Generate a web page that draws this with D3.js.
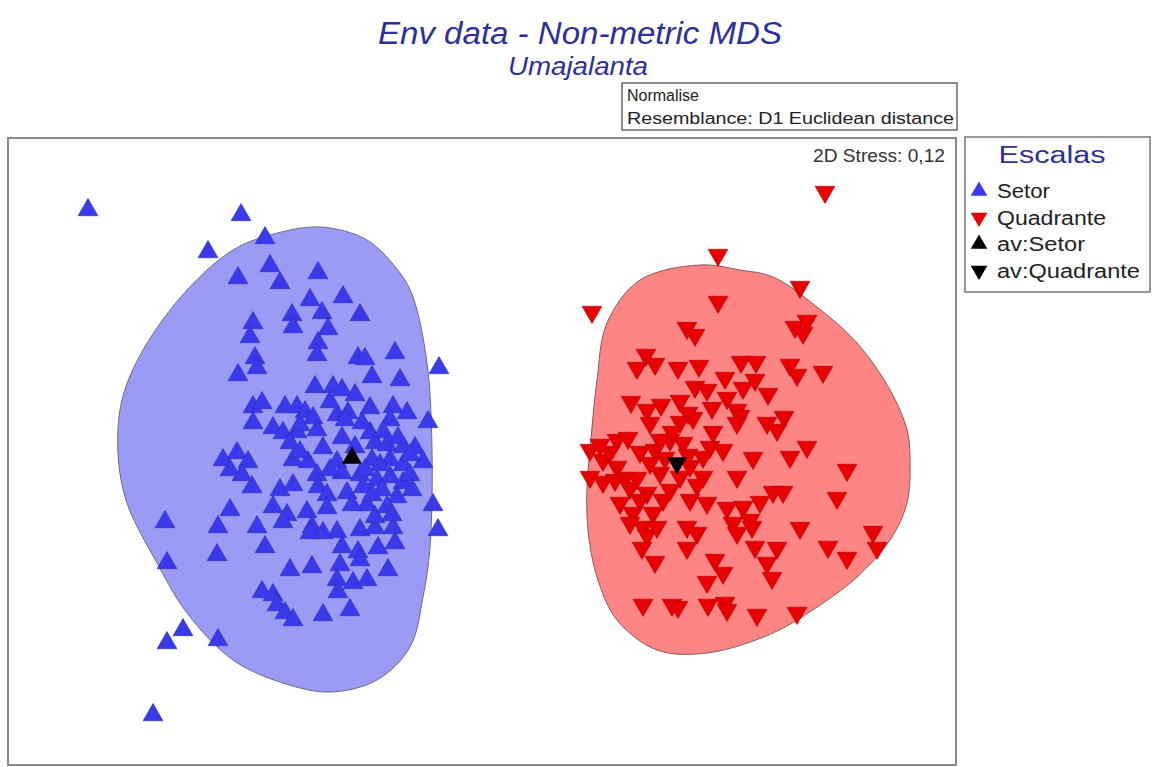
<!DOCTYPE html>
<html>
<head>
<meta charset="utf-8">
<script src="https://cdn.jsdelivr.net/npm/d3@7"></script>
<style>
  body { margin: 0; background: #fff; }
  svg { display: block; font-family: "Liberation Sans", Arial, sans-serif; }
</style>
</head>
<body>
<div id="chart"></div>
<script>
// NMDS scores (MDS1, MDS2)
const setor = [
  [-3.95,2.42],[-2.42,2.37],[-2.75,2.00],[-2.18,2.14],[-2.13,1.86],[-2.45,1.74],[-2.03,1.69],
  [-1.65,1.79],[-1.73,1.52],[-1.40,1.55],[-1.91,1.37],[-1.90,1.25],[-1.61,1.39],[-1.55,1.23],
  [-1.23,1.37],[-2.30,1.29],[-2.33,1.15],[-1.65,1.09],[-1.66,0.97],[-2.28,0.94],[-2.26,0.84],
  [-2.45,0.77],[-1.25,0.94],[-1.18,0.93],[-0.88,0.99],[-0.44,0.84],[-1.11,0.75],[-0.83,0.72],
  [-1.68,0.65],[-1.50,0.65],[-1.41,0.62],[-1.28,0.57],[-2.30,0.45],[-2.21,0.49],[-1.98,0.45],
  [-1.86,0.45],[-1.78,0.40],[-1.70,0.34],[-1.46,0.37],[-1.35,0.39],[-1.13,0.44],[-0.90,0.45],
  [-0.76,0.39],[-0.93,0.32],[-0.55,0.30],[-2.30,0.29],[-2.10,0.24],[-2.00,0.19],[-1.86,0.20],
  [-1.66,0.22],[-1.41,0.14],[-1.13,0.19],[-1.08,0.09],[-0.96,0.07],[-0.80,0.05],[-0.68,0.04],
  [-1.93,0.09],[-1.60,0.04],[-2.60,-0.08],[-2.46,-0.01],[-2.35,-0.10],[-2.53,-0.18],[-2.41,-0.23],
  [-2.31,-0.35],[-1.90,-0.08],[-1.75,-0.10],[-1.46,-0.10],[-1.11,-0.08],[-0.93,-0.08],[-0.80,-0.13],
  [-0.60,-0.10],[-1.66,-0.23],[-1.41,-0.21],[-1.23,-0.23],[-1.06,-0.28],[-0.93,-0.25],[-0.80,-0.31],
  [-1.65,-0.35],[-1.56,-0.43],[-1.36,-0.41],[-1.20,-0.35],[-1.01,-0.38],[-0.86,-0.45],[-2.03,-0.38],
  [-1.90,-0.33],[-2.53,-0.58],[-2.10,-0.55],[-1.96,-0.63],[-1.76,-0.60],[-1.56,-0.56],[-1.16,-0.53],
  [-0.96,-0.55],[-0.50,-0.53],[-2.65,-0.75],[-2.26,-0.75],[-1.71,-0.75],[-1.46,-0.80],[-1.23,-0.78],
  [-1.08,-0.76],[-0.90,-0.76],[-0.45,-0.78],[-3.18,-0.70],[-2.00,-0.70],[-1.73,-0.81],[-1.60,-0.81],
  [-2.18,-0.95],[-2.66,-1.03],[-3.16,-1.11],[-1.41,-0.95],[-1.25,-1.00],[-1.05,-0.96],[-0.88,-0.91],
  [-1.93,-1.18],[-1.71,-1.15],[-1.43,-1.13],[-1.23,-1.08],[-0.95,-1.18],[-1.46,-1.28],[-1.30,-1.31],
  [-1.16,-1.28],[-1.45,-1.40],[-2.21,-1.40],[-2.10,-1.43],[-2.06,-1.53],[-1.98,-1.61],[-1.90,-1.68],
  [-1.60,-1.63],[-1.33,-1.58],[-3.00,-1.78],[-3.16,-1.91],[-2.65,-1.88],[-3.30,-2.63],[-1.53,0.50],
  [-1.21,0.29],[-1.28,0.05],[-1.83,0.00],[-1.03,-0.13],[-0.73,-0.23],[-1.31,-0.53],[-1.08,-0.65],
  [-1.38,0.32],[-1.00,0.20],[-0.85,0.14],[-0.73,-0.03],[-1.18,-0.18],[-1.53,-0.18],[-1.11,-0.43],
  [-0.71,-0.38],[-0.91,-0.63],[-1.83,0.27]
];

const quadrante = [
  [3.42,2.60],[2.35,1.97],[3.17,1.65],[1.09,1.40],[2.35,1.50],[2.04,1.24],[2.12,1.17],[3.12,1.25],
  [3.24,1.31],[3.20,1.19],[1.63,0.97],[1.54,0.84],[1.72,0.88],[1.95,0.84],[2.16,0.86],[2.58,0.90],
  [2.73,0.90],[3.07,0.87],[3.14,0.77],[3.40,0.80],[2.42,0.74],[2.12,0.65],[2.24,0.62],[2.60,0.64],
  [2.72,0.72],[2.85,0.58],[1.48,0.50],[1.64,0.42],[1.78,0.47],[1.97,0.51],[2.05,0.39],[2.29,0.44],
  [2.44,0.54],[2.54,0.42],[2.57,0.36],[2.84,0.29],[3.01,0.35],[2.10,0.34],[1.67,0.29],[1.97,0.30],
  [2.54,0.29],[2.94,0.22],[1.07,0.02],[1.34,0.12],[1.45,0.14],[1.20,-0.08],[1.34,-0.15],[1.07,-0.25],
  [1.20,-0.30],[1.72,0.02],[1.87,0.12],[2.00,0.09],[2.27,0.05],[2.40,0.02],[1.67,-0.11],[1.77,-0.21],
  [1.97,-0.25],[2.20,-0.05],[2.20,-0.25],[2.14,-0.33],[2.70,-0.06],[3.07,-0.05],[3.24,0.05],[2.54,-0.25],
  [3.64,-0.18],[1.47,-0.36],[1.64,-0.41],[1.80,-0.48],[1.87,-0.38],[1.37,-0.51],[1.50,-0.61],[1.70,-0.61],
  [2.07,-0.48],[2.24,-0.51],[2.44,-0.56],[2.60,-0.55],[2.77,-0.50],[2.90,-0.40],[3.00,-0.40],[3.54,-0.46],
  [1.60,-0.75],[2.04,-0.75],[2.50,-0.71],[2.67,-0.68],[3.17,-0.76],[3.90,-0.80],[1.47,-0.71],[1.64,-0.83],
  [1.74,-0.75],[2.14,-0.81],[2.04,-0.96],[2.54,-0.81],[2.69,-0.75],[2.72,-0.95],[2.94,-0.96],[3.45,-0.95],
  [3.64,-1.06],[3.94,-0.96],[1.59,-0.96],[1.72,-1.10],[2.32,-1.08],[2.40,-1.21],[2.24,-1.30],[2.84,-1.11],
  [2.89,-1.26],[1.60,-1.53],[1.89,-1.53],[1.95,-1.55],[2.25,-1.53],[2.42,-1.51],[2.44,-1.58],[2.74,-1.63],
  [3.14,-1.61],[1.57,0.00],[1.82,-0.06],[2.07,-0.14],[1.27,0.00],[1.54,-0.26],[1.89,0.20],[2.30,0.20],
  [1.42,-0.26],[1.17,0.07],[1.32,-0.28],[1.77,0.12],[2.05,-0.03],[1.57,-0.48]
];

// group averages
const avSetor = [-1.31, -0.06];
const avQuadrante = [1.94, -0.11];

// outlines drawn around each group
const setorOutline = [
  [-1.63,2.25],[-1.16,2.12],[-0.83,1.79],[-0.70,1.55],[-0.56,0.89],[-0.51,0.02],[-0.53,-0.95],
  [-0.60,-1.45],[-0.73,-1.95],[-1.06,-2.28],[-1.53,-2.40],[-2.00,-2.31],[-2.50,-2.08],[-2.96,-1.61],
  [-3.26,-1.11],[-3.56,-0.51],[-3.65,-0.01],[-3.61,0.52],[-3.40,1.02],[-2.96,1.62],[-2.50,2.02],[-2.13,2.17]
];
const quadranteOutline = [
  [2.17,1.87],[2.57,1.82],[2.90,1.75],[3.34,1.45],[3.74,1.09],[4.07,0.62],[4.24,0.22],[4.27,-0.08],
  [4.24,-0.51],[4.07,-0.88],[3.74,-1.25],[3.40,-1.51],[2.90,-1.81],[2.24,-2.01],[1.74,-1.98],[1.34,-1.68],
  [1.14,-1.25],[1.05,-0.78],[1.04,-0.35],[1.07,0.02],[1.14,0.72],[1.24,1.29],[1.57,1.72]
];

const legendLabels = ["Setor", "Quadrante", "av:Setor", "av:Quadrante"];

const width = 1152, height = 767;
const plot = { left: 8, top: 138, right: 956, bottom: 765 };

const svg = d3.select("#chart").append("svg")
  .attr("width", width)
  .attr("height", height)
  .attr("viewBox", [0, 0, width, height]);

const x = d3.scaleLinear().domain([-4.75, 4.75]).range([8, 958]);
const y = d3.scaleLinear().domain([-3.15, 3.15]).range([767, 137]);

// titles
svg.append("text")
  .attr("x", 580).attr("y", 44)
  .attr("text-anchor", "middle")
  .attr("font-size", 31).attr("font-style", "italic")
  .attr("fill", "#2e2e9c")
  .attr("textLength", 404).attr("lengthAdjust", "spacingAndGlyphs")
  .text("Env data - Non-metric MDS");

svg.append("text")
  .attr("x", 578).attr("y", 75)
  .attr("text-anchor", "middle")
  .attr("font-size", 25).attr("font-style", "italic")
  .attr("fill", "#2e2e9c")
  .attr("textLength", 140).attr("lengthAdjust", "spacingAndGlyphs")
  .text("Umajalanta");

// resemblance box
svg.append("rect")
  .attr("x", 622).attr("y", 83).attr("width", 335).attr("height", 47)
  .attr("fill", "#fff").attr("stroke", "#444").attr("stroke-width", 1.2);
svg.append("text")
  .attr("x", 627).attr("y", 101)
  .attr("font-size", 16).attr("fill", "#222")
  .text("Normalise");
svg.append("text")
  .attr("x", 627).attr("y", 124)
  .attr("font-size", 16).attr("fill", "#222")
  .attr("textLength", 327).attr("lengthAdjust", "spacingAndGlyphs")
  .text("Resemblance: D1 Euclidean distance");

// plot frame
svg.append("rect")
  .attr("x", plot.left).attr("y", plot.top)
  .attr("width", plot.right - plot.left).attr("height", plot.bottom - plot.top)
  .attr("fill", "#fff").attr("stroke", "#8a8a8a").attr("stroke-width", 2);

svg.append("text")
  .attr("x", 945).attr("y", 162)
  .attr("text-anchor", "end")
  .attr("font-size", 18).attr("fill", "#333")
  .attr("textLength", 132).attr("lengthAdjust", "spacingAndGlyphs")
  .text("2D Stress: 0,12");

// group outlines
const outline = d3.line()
  .x(d => x(d[0]))
  .y(d => y(d[1]))
  .curve(d3.curveCatmullRomClosed.alpha(0.5));

svg.append("path")
  .datum(setorOutline)
  .attr("d", outline)
  .attr("fill", "#9b9bf6")
  .attr("stroke", "#6a6a8a").attr("stroke-width", 1);

svg.append("path")
  .datum(quadranteOutline)
  .attr("d", outline)
  .attr("fill", "#ff8484")
  .attr("stroke", "#8a5a5a").attr("stroke-width", 1);

// markers
const tri = d3.symbol().type(d3.symbolTriangle).size(170)();

svg.append("g")
  .selectAll("path")
  .data(setor)
  .join("path")
  .attr("d", tri)
  .attr("transform", d => `translate(${x(d[0])},${y(d[1])})`)
  .attr("fill", "#3a3aec")
  .attr("stroke", "#2a2ab4").attr("stroke-width", 0.6);

svg.append("g")
  .selectAll("path")
  .data(quadrante)
  .join("path")
  .attr("d", tri)
  .attr("transform", d => `translate(${x(d[0])},${y(d[1])}) rotate(180)`)
  .attr("fill", "#e80000")
  .attr("stroke", "#b40000").attr("stroke-width", 0.6);

svg.append("path")
  .attr("d", tri)
  .attr("transform", `translate(${x(avSetor[0])},${y(avSetor[1])})`)
  .attr("fill", "#000");

svg.append("path")
  .attr("d", tri)
  .attr("transform", `translate(${x(avQuadrante[0])},${y(avQuadrante[1])}) rotate(180)`)
  .attr("fill", "#000");

// legend
const legend = svg.append("g");
legend.append("rect")
  .attr("x", 965).attr("y", 137).attr("width", 185).attr("height", 155)
  .attr("fill", "#fff").attr("stroke", "#777").attr("stroke-width", 1.5);
legend.append("text")
  .attr("x", 1052).attr("y", 163)
  .attr("text-anchor", "middle")
  .attr("font-size", 23).attr("fill", "#2e2e9c")
  .attr("textLength", 107).attr("lengthAdjust", "spacingAndGlyphs")
  .text("Escalas");

const legendFill = ["#3a3aec", "#e80000", "#000", "#000"];
const legendDown = [false, true, false, true];
const legendLen = [53, 109, 88, 143];
const legendTri = d3.symbol().type(d3.symbolTriangle).size(120)();

legendLabels.forEach((label, i) => {
  const cy = 191 + i * 26.5;
  legend.append("path")
    .attr("d", legendTri)
    .attr("transform", `translate(979,${cy})${legendDown[i] ? " rotate(180)" : ""}`)
    .attr("fill", legendFill[i]);
  legend.append("text")
    .attr("x", 997).attr("y", cy + 7)
    .attr("font-size", 20).attr("fill", "#222")
    .attr("textLength", legendLen[i]).attr("lengthAdjust", "spacingAndGlyphs")
    .text(label);
});
</script>
</body>
</html>
